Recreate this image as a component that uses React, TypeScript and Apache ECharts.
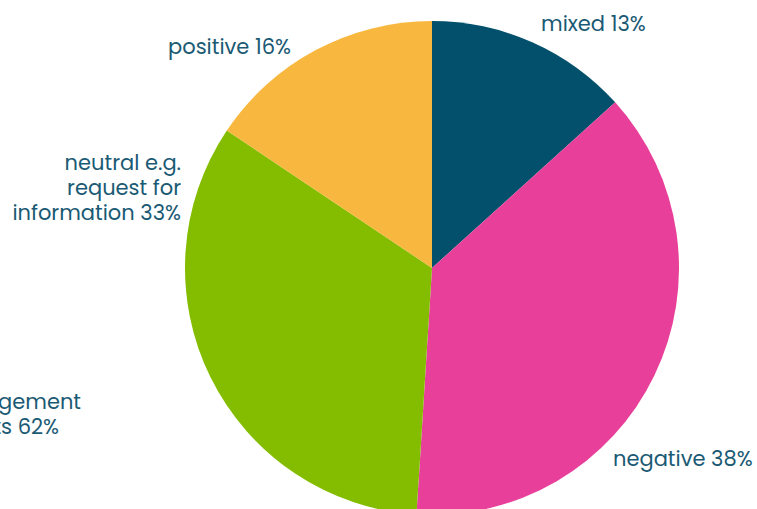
import React, { useEffect, useRef } from "react";
import * as echarts from "echarts";

const categories = ["mixed", "negative", "neutral e.g.\nrequest for\ninformation", "positive"];
const values = [13.3, 37.7, 33.4, 15.6];
const colors = ["#02506b", "#e8409a", "#84bd00", "#f8b83f"];
const extraLines = ["no engagement", "with posts 62%"];

const labelPos = [
  { x: 541, y: 23, align: "left" },
  { x: 613, y: 458, align: "left" },
  { x: 181, y: 187, align: "right" },
  { x: 291, y: 46, align: "right" },
];

export default function App() {
  const ref = useRef<HTMLDivElement>(null);
  useEffect(() => {
    document.body.style.margin = "0";
    const chart = echarts.init(ref.current!, null, { renderer: "svg" });
    const textColor = "#1a5a74";
    const font = "Poppins, 'DejaVu Sans', sans-serif";
    chart.setOption({
      animation: false,
      graphic: [
        {
          type: "text",
          x: 81,
          y: 401,
          style: {
            text: extraLines[0],
            fill: textColor,
            font: `21px ${font}`,
            align: "right",
            verticalAlign: "middle",
          },
        },
        {
          type: "text",
          x: 59,
          y: 426,
          style: {
            text: extraLines[1],
            fill: textColor,
            font: `21px ${font}`,
            align: "right",
            verticalAlign: "middle",
          },
        },
      ],
      series: [
        {
          type: "pie",
          radius: 247,
          center: [432, 268],
          startAngle: 90,
          clockwise: true,
          silent: true,
          percentPrecision: 0,
          data: values.map((v, i) => ({
            name: categories[i],
            value: v,
            itemStyle: { color: colors[i] },
          })),
          label: {
            show: true,
            position: "outside",
            formatter: "{b} {d}%",
            color: textColor,
            fontSize: 21,
            fontFamily: font,
            lineHeight: 25,
            overflow: "none",
            width: 300,
          },
          labelLine: { show: false },
          labelLayout: (p: any) => {
            const l = labelPos[p.dataIndex];
            return { x: l.x, y: l.y, align: l.align, verticalAlign: "middle" };
          },
        },
      ],
    });
    return () => chart.dispose();
  }, []);
  return <div ref={ref} style={{ width: 757, height: 509 }} />;
}
